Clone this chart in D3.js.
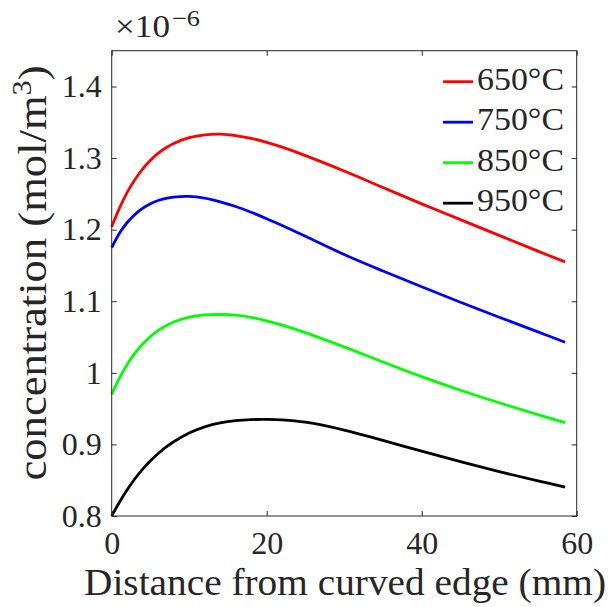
<!DOCTYPE html>
<html>
<head>
<meta charset="utf-8">
<script src="https://cdn.jsdelivr.net/npm/d3@7/dist/d3.min.js"></script>
<style>
  html, body { margin: 0; padding: 0; background: #fff; }
  svg { display: block; }
  text { font-family: "Liberation Serif", "DejaVu Serif", serif; fill: #262626; }
</style>
</head>
<body>
<svg id="chart" width="611" height="607"></svg>
<script>
// Distance from the curved edge (mm)
const distance = [0, 1, 2, 3, 4, 5, 6, 7, 8, 10, 12, 14, 16, 18, 20, 22, 25, 30, 35, 40, 45, 50, 55, 58.5];

// Concentration (x 1e-6 mol/m^3) for each furnace temperature
const c650 = [1.204, 1.230, 1.252, 1.270, 1.285, 1.297, 1.3068, 1.3145, 1.3205, 1.3285, 1.3325, 1.3335, 1.3315, 1.3275, 1.322, 1.3152, 1.3035, 1.282, 1.259, 1.236, 1.214, 1.192, 1.170, 1.155];
const c750 = [1.175, 1.195, 1.210, 1.2213, 1.2299, 1.2363, 1.2408, 1.2438, 1.2456, 1.2465, 1.2439, 1.2389, 1.2323, 1.2243, 1.2153, 1.2057, 1.1907, 1.1652, 1.1422, 1.1202, 1.0987, 1.0777, 1.0572, 1.0428];
const c850 = [0.970, 0.9928, 1.0118, 1.0275, 1.0403, 1.0508, 1.0592, 1.0659, 1.071, 1.0777, 1.0809, 1.0815, 1.0805, 1.0775, 1.0727, 1.0667, 1.0562, 1.0362, 1.0152, 0.9947, 0.9757, 0.9582, 0.9417, 0.9305];
const c950 = [0.800, 0.8193, 0.8366, 0.8520, 0.8654, 0.8771, 0.8873, 0.8961, 0.9037, 0.9160, 0.9245, 0.9300, 0.9332, 0.9347, 0.9350, 0.9344, 0.9311, 0.9201, 0.9056, 0.8906, 0.8761, 0.8621, 0.8491, 0.8404];

const seriesNames = ["650°C", "750°C", "850°C", "950°C"];
const seriesColors = ["#ff0000", "#0000ff", "#00ff00", "#000000"];
const seriesValues = [c650, c750, c850, c950];

const xTicks = [0, 20, 40, 60];
const yTicks = [0.8, 0.9, 1, 1.1, 1.2, 1.3, 1.4];
const xDomain = [0, 60];
const yDomain = [0.8, 1.45];

const serifFont = '"Liberation Serif", "DejaVu Serif", serif';

const svg = d3.select("#chart");
const plotLeft = 111.7, plotRight = 576.7, plotTop = 50.7, plotBottom = 516;

const x = d3.scaleLinear().domain(xDomain).range([plotLeft, plotRight]);
const y = d3.scaleLinear().domain(yDomain).range([plotBottom, plotTop]);

const axisColor = "#262626";
const tickFont = 32;

// curves
const line = d3.line()
  .x(d => x(d[0]))
  .y(d => y(d[1]))
  .curve(d3.curveCatmullRom.alpha(0.5));

seriesValues.forEach((vals, i) => {
  svg.append("path")
    .datum(distance.map((d, j) => [d, vals[j]]))
    .attr("fill", "none")
    .attr("stroke", seriesColors[i])
    .attr("stroke-width", 2.8)
    .attr("stroke-linejoin", "round")
    .attr("d", line);
});

// axes with inward ticks on all four sides
function styleAxis(g) {
  g.attr("font-family", serifFont);
  g.select(".domain").remove();
  g.selectAll(".tick line").attr("stroke", axisColor).attr("stroke-width", 1);
  g.selectAll(".tick text")
    .attr("fill", axisColor)
    .style("font-size", tickFont + "px")
    .style("font-family", serifFont);
}

const fmt = d => String(+d.toFixed(1));

svg.append("g")
  .attr("transform", `translate(0,${plotBottom})`)
  .call(d3.axisBottom(x).tickValues(xTicks).tickFormat(fmt).tickSizeInner(-5).tickSizeOuter(0).tickPadding(15))
  .call(styleAxis);

svg.append("g")
  .attr("transform", `translate(0,${plotTop})`)
  .call(d3.axisTop(x).tickValues(xTicks).tickFormat("").tickSizeInner(-5).tickSizeOuter(0))
  .call(styleAxis);

svg.append("g")
  .attr("transform", `translate(${plotLeft},0)`)
  .call(d3.axisLeft(y).tickValues(yTicks).tickFormat(fmt).tickSizeInner(-5).tickSizeOuter(0).tickPadding(10))
  .call(styleAxis);

svg.append("g")
  .attr("transform", `translate(${plotRight},0)`)
  .call(d3.axisRight(y).tickValues(yTicks).tickFormat("").tickSizeInner(-5).tickSizeOuter(0))
  .call(styleAxis);

// box
svg.append("rect")
  .attr("x", plotLeft).attr("y", plotTop)
  .attr("width", plotRight - plotLeft).attr("height", plotBottom - plotTop)
  .attr("fill", "none")
  .attr("stroke", axisColor)
  .attr("stroke-width", 1);

// exponent multiplier above the y axis
svg.append("text")
  .attr("x", 115).attr("y", 37)
  .attr("textLength", 55)
  .attr("lengthAdjust", "spacingAndGlyphs")
  .style("font-family", serifFont)
  .style("font-size", "32px")
  .text("×10");
svg.append("text")
  .attr("x", 172).attr("y", 26)
  .attr("textLength", 28)
  .attr("lengthAdjust", "spacingAndGlyphs")
  .style("font-family", serifFont)
  .style("font-size", "23px")
  .text("−6");

// axis titles
svg.append("text")
  .attr("x", 345).attr("y", 595)
  .attr("text-anchor", "middle")
  .attr("textLength", 522)
  .attr("lengthAdjust", "spacingAndGlyphs")
  .style("font-family", serifFont)
  .style("font-size", "37px")
  .text("Distance from curved edge (mm)");

const yl = svg.append("text")
  .attr("transform", "translate(46,273) rotate(-90)")
  .attr("text-anchor", "middle")
  .attr("textLength", 415)
  .attr("lengthAdjust", "spacingAndGlyphs")
  .style("font-family", serifFont)
  .style("font-size", "40px");
yl.append("tspan").text("concentration (mol/m");
yl.append("tspan").attr("dy", -15).style("font-size", "27px").text("3");
yl.append("tspan").attr("dy", 15).text(")");

// legend
const legendY0 = 81.7, legendStep = 40.5;
seriesNames.forEach((name, i) => {
  const ly = legendY0 + i * legendStep;
  svg.append("line")
    .attr("x1", 443).attr("x2", 473)
    .attr("y1", ly).attr("y2", ly)
    .attr("stroke", seriesColors[i])
    .attr("stroke-width", 2.8);
  svg.append("text")
    .attr("x", 477).attr("y", ly + 8)
    .attr("textLength", 87)
    .attr("lengthAdjust", "spacingAndGlyphs")
    .style("font-family", serifFont)
    .style("font-size", "32px")
    .text(name);
});
</script>
</body>
</html>
